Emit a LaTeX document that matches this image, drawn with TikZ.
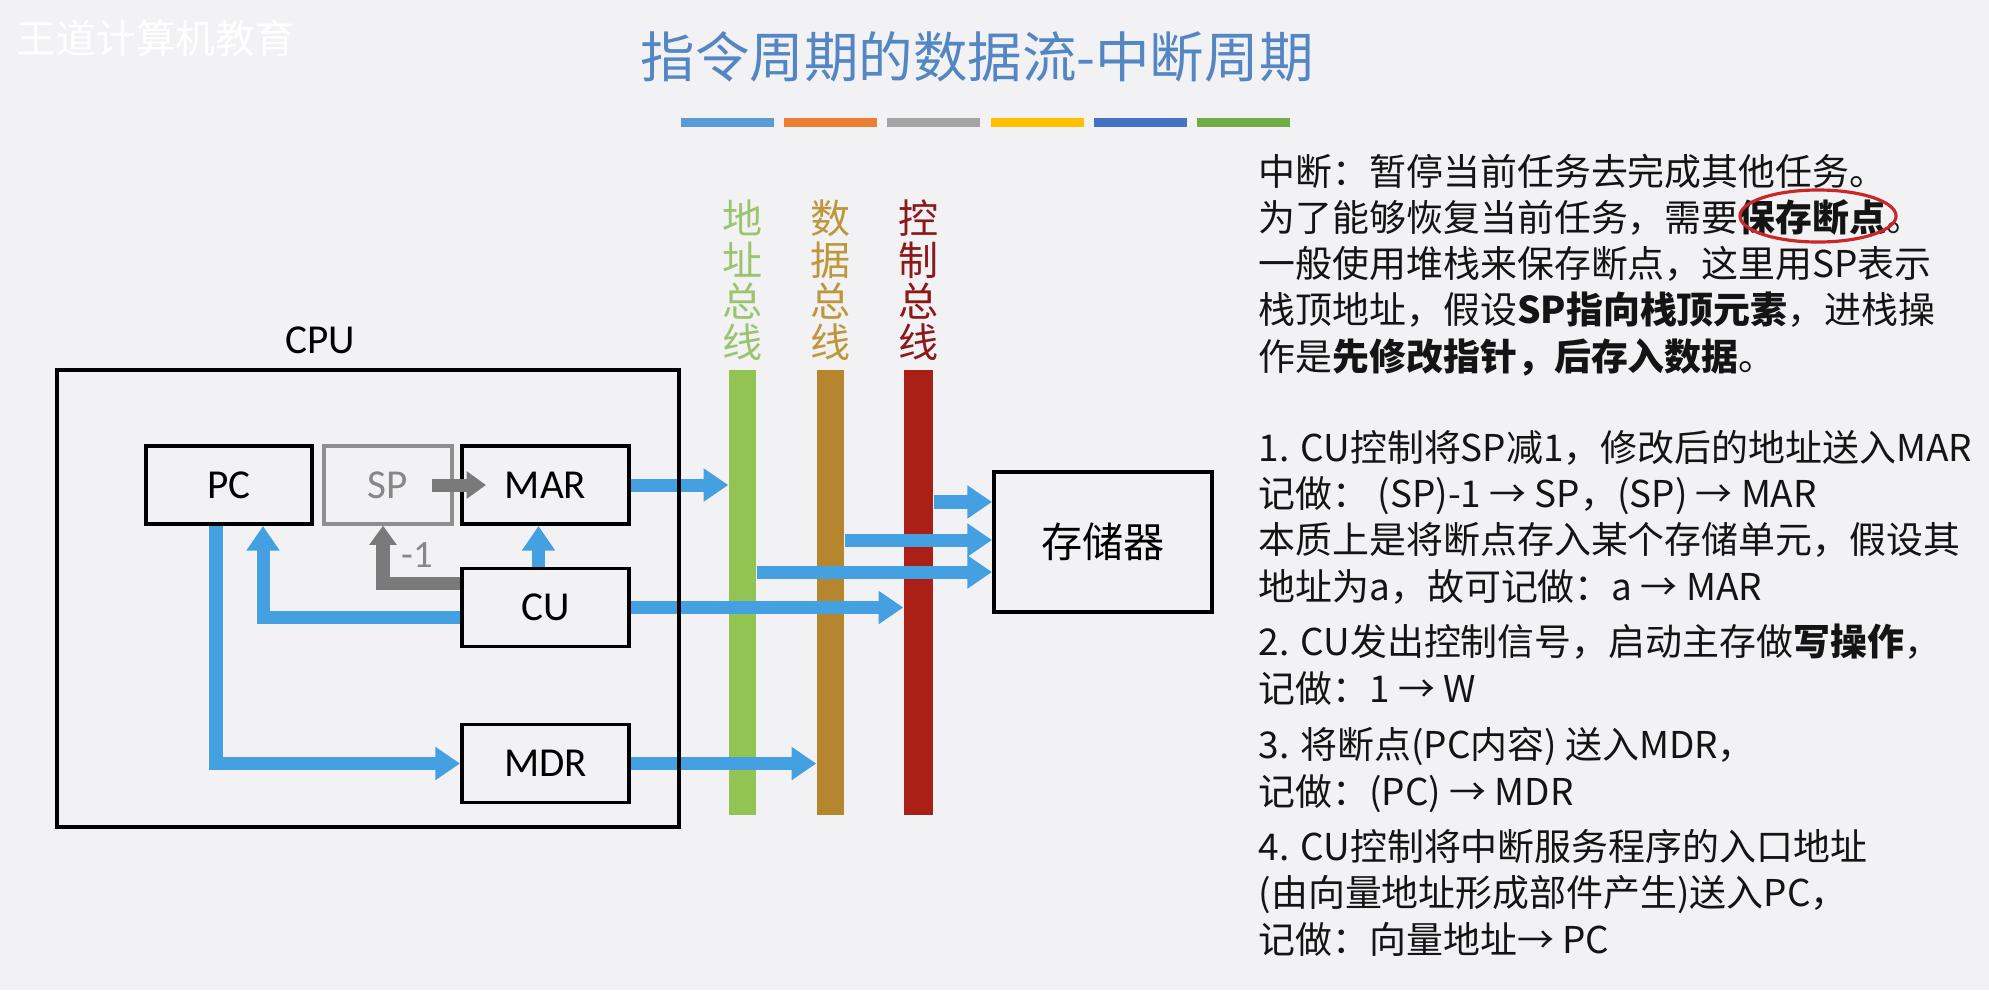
\documentclass[tikz,border=0pt]{standalone}
\usepackage{fontspec}
\setmainfont{Noto Sans CJK SC}
\newfontfamily\latfont{Carlito}
\usetikzlibrary{arrows.meta}

\definecolor{bg}{RGB}{242,242,244}
\definecolor{flowblue}{RGB}{69,160,226}
\definecolor{arrowgray}{RGB}{122,122,122}
\definecolor{spbox}{RGB}{142,142,142}
\definecolor{sptext}{RGB}{135,135,135}
\definecolor{addrbus}{RGB}{146,196,83}
\definecolor{databus}{RGB}{181,134,46}
\definecolor{ctrlbus}{RGB}{170,32,22}
\definecolor{addrtxt}{RGB}{155,196,110}
\definecolor{datatxt}{RGB}{190,150,60}
\definecolor{ctrltxt}{RGB}{140,25,25}
\definecolor{titleblue}{RGB}{84,134,196}
\definecolor{circled}{RGB}{200,40,40}
\definecolor{textblack}{RGB}{20,20,20}
\definecolor{barblue}{RGB}{91,155,213}
\definecolor{barorange}{RGB}{237,125,49}
\definecolor{bargray}{RGB}{165,165,165}
\definecolor{baryellow}{RGB}{255,192,0}
\definecolor{bardark}{RGB}{68,114,196}
\definecolor{bargreen}{RGB}{112,173,71}

\begin{document}
\begin{tikzpicture}[x=0.01cm,y=-0.01cm,>={Triangle[length=7pt,width=9pt]},
  reg/.style={draw,line width=1.1pt,minimum width=1.67cm,minimum height=0.78cm,inner sep=0pt,
    font=\latfont\fontsize{11.7pt}{14pt}\selectfont},
  bus/.style={inner sep=0pt,minimum height=4.45cm},
  buslab/.style={anchor=south,align=center,inner sep=0pt,font=\fontsize{11.4pt}{11.7pt}\selectfont},
  bluearrow/.style={draw=flowblue,line width=3.7pt,->},
  grayarrow/.style={draw=arrowgray,line width=3.7pt,-{Triangle[length=5.5pt,width=7.5pt]}},
  txt/.style={anchor=base west,align=left,inner sep=0pt,text=textblack,
    font=\fontsize{10.5pt}{13.1pt}\selectfont}]
  \fill[bg] (0,0) rectangle (1989,990);
  \node[text=white,font=\fontsize{11.3pt}{13pt}\selectfont] (mark) at (156,38) {王道计算机教育};
  \node[text=titleblue,font=\fontsize{15.5pt}{18pt}\selectfont] (title) at (977,57) {指令周期的数据流-中断周期};
  \foreach \c [count=\i from 0] in {barblue,barorange,bargray,baryellow,bardark,bargreen}
    \fill[\c] (681+103.2*\i,118) rectangle ++(93,9);

  \node[bus,fill=addrbus,minimum width=0.27cm] (abus) at (742.5,592.5) {};
  \node[bus,fill=databus,minimum width=0.27cm] (dbus) at (830.5,592.5) {};
  \node[bus,fill=ctrlbus,minimum width=0.29cm] (cbus) at (918.5,592.5) {};
  \node[buslab,text=addrtxt] (alab) at ([yshift=0.08cm]abus.north) {地\\址\\总\\线};
  \node[buslab,text=datatxt] (dlab) at ([yshift=0.08cm]dbus.north) {数\\据\\总\\线};
  \node[buslab,text=ctrltxt] (clab) at ([yshift=0.08cm]cbus.north) {控\\制\\总\\线};

  \node[font=\latfont\fontsize{11.7pt}{14pt}\selectfont] (cpulab) at (320,340) {CPU};
  \node[reg,minimum width=1.66cm] (pc) at (229,485) {PC};
  \node[reg,draw=spbox,text=sptext,line width=0.9pt,minimum width=1.28cm] (sp) at (388,485) {SP};
  \node[reg] (mar) at (545.5,485) {MAR};
  \node[reg] (cu) at (545.5,607.5) {CU};
  \node[reg] (mdr) at (545.5,763.5) {MDR};
  \node[draw,line width=1.1pt,minimum width=2.18cm,minimum height=1.4cm,
    font=\fontsize{11.7pt}{14pt}\selectfont] (mem) at (1103,542) {存储器};

  \draw[grayarrow] ([xshift=-0.22cm]sp.east) -- ([xshift=0.26cm]mar.west);
  \draw[grayarrow] ([yshift=0.245cm]cu.west) -| ([xshift=-0.05cm]sp.south);
  \node[text=sptext,font=\latfont\fontsize{11pt}{13pt}\selectfont] (dec) at (417,555) {-1};

  \draw[bluearrow] ([xshift=-0.07cm]cu.north) -- ([xshift=-0.07cm]mar.south);
  \draw[bluearrow] ([yshift=-0.095cm]cu.west) -| ([xshift=0.34cm]pc.south);
  \draw[bluearrow] ([xshift=-0.13cm]pc.south) |- (mdr.west);
  \draw[bluearrow] (mar.east) -- (mar.east -| abus.west);
  \draw[bluearrow] (cu.east) -- (cu.east -| cbus.west);
  \draw[bluearrow] (mdr.east) -- (mdr.east -| dbus.west);
  \coordinate (m1) at ([yshift=0.4cm]mem.west);
  \coordinate (m2) at ([yshift=0.02cm]mem.west);
  \coordinate (m3) at ([yshift=-0.3cm]mem.west);
  \draw[bluearrow] (m1 -| cbus.east) -- (m1);
  \draw[bluearrow] (m2 -| dbus.east) -- (m2);
  \draw[bluearrow] (m3 -| abus.east) -- (m3);

  \node[draw,line width=1pt,minimum width=6.22cm,minimum height=4.57cm] (cpu) at (368,598.5) {};

  \node[txt] (intro) at (1258,370) {中断：暂停当前任务去完成其他任务。\\
    为了能够恢复当前任务，需要\textbf{保存断点}。\\
    一般使用堆栈来保存断点，这里用SP表示\\
    栈顶地址，假设\textbf{SP指向栈顶元素}，进栈操\\
    作是\textbf{先修改指针，后存入数据}。};
  \draw[circled,line width=0.9pt] (1818,216) ellipse [x radius=0.78cm,y radius=0.26cm];
  \node[txt] (step1) at (1258,600) {1. CU控制将SP减1，修改后的地址送入MAR\\
    记做： (SP)-1 → SP，(SP) → MAR\\
    本质上是将断点存入某个存储单元，假设其\\
    地址为a，故可记做：a → MAR};
  \node[txt] (step2) at (1258,702) {2. CU发出控制信号，启动主存做\textbf{写操作}，\\
    记做：1 → W};
  \node[txt] (step3) at (1258,805) {3. 将断点(PC内容) 送入MDR，\\
    记做：(PC) → MDR};
  \node[txt] (step4) at (1258,953) {4. CU控制将中断服务程序的入口地址\\
    (由向量地址形成部件产生)送入PC，\\
    记做：向量地址→ PC};
\end{tikzpicture}
\end{document}
